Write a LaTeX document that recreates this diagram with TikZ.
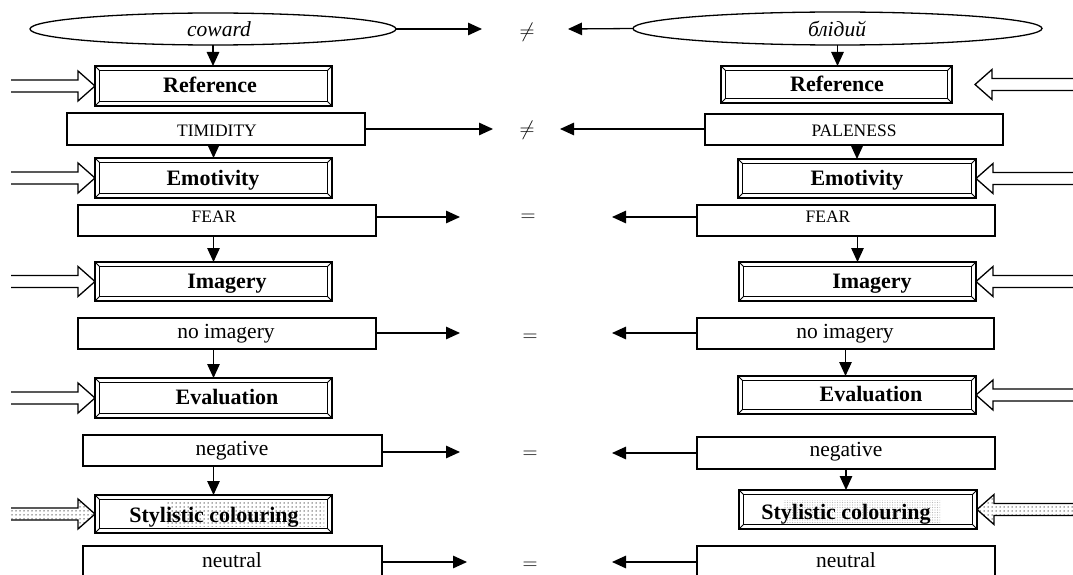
\documentclass[tikz,border=0pt]{standalone}
\usepackage{fontspec}
\setmainfont{Liberation Serif}
\usetikzlibrary{arrows.meta,shapes.geometric,patterns.meta}

% coarse stipple used for the shaded block arrows and label backgrounds
\tikzdeclarepattern{
  name=stipple,
  type=uncolored,
  bottom left={(-1pt,-1pt)},
  top right={(3pt,3pt)},
  tile size={(4pt,4pt)},
  code={\fill (0,0) circle (0.75pt);}
}
\tikzdeclarepattern{
  name=finestipple,
  type=uncolored,
  bottom left={(-1pt,-1pt)},
  top right={(1.5pt,1.5pt)},
  tile size={(2.5pt,2.5pt)},
  code={\fill (0,0) circle (0.6pt);}
}

\tikzset{
  % hollow block arrow with an open tail; #1 = fill, #2 = total length
  pics/inarrow/.style 2 args={code={
    \fill[#1] (0,0) -- (-17,-15) -- (-17,-6) -- (-#2,-6) -- (-#2,6) -- (-17,6) -- (-17,15) -- cycle;
    \draw[line width=1.3pt, line join=miter]
      (-#2,-6) -- (-17,-6) -- (-17,-15) -- (0,0) -- (-17,15) -- (-17,6) -- (-#2,6);
  }}
}

\begin{document}
\begin{tikzpicture}[x=1pt,y=-1pt,
  every node/.style={inner sep=0pt, outer sep=0pt},
  conn/.style={line width=1.3pt, -{Triangle[length=14pt,width=12.5pt]}},
  oval/.style={ellipse, draw, line width=1.3pt},
  plainbox/.style={rectangle, draw, line width=1.5pt},
  bevel/.style={rectangle, draw, line width=1.6pt,
    path picture={
      \draw[line width=1.1pt]
        ([shift={(4.5,4.5)}]path picture bounding box.north west) rectangle
        ([shift={(-4.5,-4.5)}]path picture bounding box.south east);
      \draw[line width=0.9pt]
        (path picture bounding box.north west) -- ++(4.5,4.5)
        (path picture bounding box.north east) -- ++(-4.5,4.5)
        (path picture bounding box.south west) -- ++(4.5,-4.5)
        (path picture bounding box.south east) -- ++(-4.5,-4.5);
    }},
  txt/.style={anchor=base, font=\fontsize{21.5}{24}\selectfont},
  caps/.style={anchor=base, font=\fontsize{17.5}{20}\selectfont},
  head/.style={anchor=base, font=\bfseries\fontsize{22}{24}\selectfont},
  word/.style={anchor=base, font=\itshape\fontsize{21.5}{24}\selectfont},
  rel/.style={font=\fontsize{22}{24}\selectfont},
  dotfill/.style={pattern=stipple, pattern color=black!65},
]
\useasboundingbox (0,0) rectangle (1073,575);
\clip (0,0) rectangle (1073,575);

% ---------- left column ----------
\node[oval, minimum width=366, minimum height=32] (ellL) at (213,29) {};
\node[word] (ellLt) at (219,37) {coward};

\node[bevel, minimum width=237, minimum height=40] (refL) at (213.5,86) {};
\node[head] (refLt) at (210,92.5) {Reference};

\node[plainbox, minimum width=298, minimum height=32] (timL) at (216,129) {};
\node[caps] (timLt) at (217,137) {TIMIDITY};

\node[bevel, minimum width=237, minimum height=40] (emoL) at (213.5,178) {};
\node[head] (emoLt) at (213,185.5) {Emotivity};

\node[plainbox, minimum width=298, minimum height=31] (fearL) at (227,220.5) {};
\node[caps] (fearLt) at (214,222) {FEAR};

\node[bevel, minimum width=237, minimum height=39] (imgL) at (213.5,281.5) {};
\node[head] (imgLt) at (227,288) {Imagery};

\node[plainbox, minimum width=298, minimum height=31] (noimL) at (227,333.5) {};
\node[txt] (noimLt) at (226,338) {no imagery};

\node[bevel, minimum width=237, minimum height=40] (evalL) at (213.5,398) {};
\node[head] (evalLt) at (227,404) {Evaluation};

\node[plainbox, minimum width=299, minimum height=31] (negL) at (232.5,450.5) {};
\node[txt] (negLt) at (232,455) {negative};

\node[bevel, minimum width=237, minimum height=38] (styL) at (213.5,514) {};
\fill[dotfill] (167,502) rectangle (324,526);
\node[head] (styLt) at (214,522) {Stylistic colouring};

\node[plainbox, minimum width=299, minimum height=32] (neuL) at (232.5,562) {};
\node[txt] (neuLt) at (232,567) {neutral};

% ---------- right column ----------
\node[oval, minimum width=409, minimum height=33] (ellR) at (837.5,28.5) {};
\node[word] (ellRt) at (837,36.5) {блідий};

\node[bevel, minimum width=231, minimum height=37] (refR) at (836.5,84.5) {};
\node[head] (refRt) at (837,92) {Reference};

\node[plainbox, minimum width=298, minimum height=31] (palR) at (854,129.5) {};
\node[caps] (palRt) at (854,137) {PALENESS};

\node[bevel, minimum width=238, minimum height=39] (emoR) at (857,178.5) {};
\node[head] (emoRt) at (857,185) {Emotivity};

\node[plainbox, minimum width=298, minimum height=31] (fearR) at (846,220.5) {};
\node[caps] (fearRt) at (828,222) {FEAR};

\node[bevel, minimum width=237, minimum height=39] (imgR) at (857.5,281.5) {};
\node[head] (imgRt) at (872,288) {Imagery};

\node[plainbox, minimum width=297, minimum height=31] (noimR) at (845.5,333.5) {};
\node[txt] (noimRt) at (845,338) {no imagery};

\node[bevel, minimum width=238, minimum height=38] (evalR) at (857,395) {};
\node[head] (evalRt) at (871,401) {Evaluation};

\node[plainbox, minimum width=298, minimum height=32] (negR) at (846,453) {};
\node[txt] (negRt) at (846,456) {negative};

\node[bevel, minimum width=238, minimum height=39] (styR) at (858,509.5) {};
\fill[pattern=finestipple, pattern color=gray!55] (783,500) rectangle (940,523);
\node[head] (styRt) at (846,519) {Stylistic colouring};

\node[plainbox, minimum width=298, minimum height=32] (neuR) at (846,562) {};
\node[txt] (neuRt) at (846,567) {neutral};

% ---------- vertical links ----------
\draw[conn] (ellL.south) -- (ellL.south |- refL.north);
\draw[conn] (timL.south -| emoL.north) -- (emoL.north);
\draw[conn] (fearL.south -| imgL.north) -- (imgL.north);
\draw[conn] (noimL.south -| evalL.north) -- (evalL.north);
\draw[conn] (negL.south -| styL.north) -- (styL.north);

\draw[conn] (ellR.south) -- (ellR.south |- refR.north);
\draw[conn] (palR.south -| emoR.north) -- (emoR.north);
\draw[conn] (fearR.south -| imgR.north) -- (imgR.north);
\draw[conn] (noimR.south) -- (noimR.south |- evalR.north);
\draw[conn] (negR.south) -- (negR.south |- styR.north);

% ---------- comparison signs ----------
\node[rel] (r1) at (527,32) {$\neq$};
\node[rel] (r2) at (527,130) {$\neq$};
\node[rel] (r3) at (528,218) {$=$};
\node[rel] (r4) at (530,338) {$=$};
\node[rel] (r5) at (530,455) {$=$};
\node[rel] (r6) at (530,566) {$=$};

\coordinate (e1L) at (482,29);   \coordinate (e1R) at (568,29);
\coordinate (e2L) at (493,129);  \coordinate (e2R) at (560,129);
\coordinate (e3L) at (460,217);  \coordinate (e3R) at (612,217);
\coordinate (e4L) at (460,333);  \coordinate (e4R) at (612,333);
\coordinate (e5L) at (460,452);  \coordinate (e5R) at (612,453);
\coordinate (e6L) at (467,562);  \coordinate (e6R) at (612,562);

\draw[conn] (ellL.east) -- (e1L);
\draw[conn] (ellR.west) -- (e1R);
\draw[conn] (timL.east |- e2L) -- (e2L);
\draw[conn] (palR.west |- e2R) -- (e2R);
\draw[conn] (fearL.east |- e3L) -- (e3L);
\draw[conn] (fearR.west |- e3R) -- (e3R);
\draw[conn] (noimL.east |- e4L) -- (e4L);
\draw[conn] (noimR.west |- e4R) -- (e4R);
\draw[conn] (negL.east |- e5L) -- (e5L);
\draw[conn] (negR.west |- e5R) -- (e5R);
\draw[conn] (neuL.east |- e6L) -- (e6L);
\draw[conn] (neuR.west |- e6R) -- (e6R);

% ---------- incoming block arrows ----------
\pic at (refL.west)  {inarrow={white}{84}};
\pic at (emoL.west)  {inarrow={white}{84}};
\pic at (imgL.west)  {inarrow={white}{84}};
\pic at (evalL.west) {inarrow={white}{84}};
\pic at (styL.west)  {inarrow={dotfill}{84}};

\pic[xscale=-1] at ([xshift=23pt]refR.east) {inarrow={white}{110}};
\pic[xscale=-1] at (emoR.east)  {inarrow={white}{110}};
\pic[xscale=-1] at (imgR.east)  {inarrow={white}{110}};
\pic[xscale=-1] at (evalR.east) {inarrow={white}{110}};
\pic[xscale=-1] at (styR.east)  {inarrow={dotfill}{110}};
\end{tikzpicture}
\end{document}
